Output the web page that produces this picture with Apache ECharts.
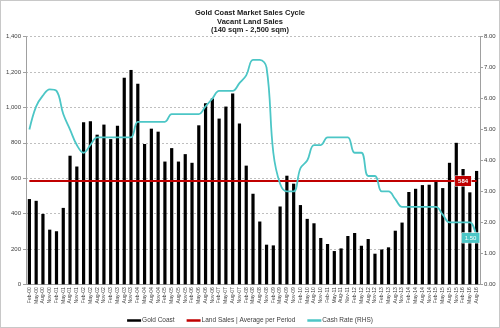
<!DOCTYPE html>
<html><head><meta charset="utf-8">
<script src="https://cdn.jsdelivr.net/npm/echarts@6/dist/echarts.min.js"></script>
<style>html,body{margin:0;padding:0;background:#fff}#c{width:500px;height:328px;position:absolute;left:0;top:0}#b{position:absolute;left:0;top:0;width:500px;height:328px;box-sizing:border-box;border:1px solid #c8c8c8;pointer-events:none}</style>
</head><body><div id="c"></div><div id="b"></div>
<script>
const categories = ["Feb-00","May-00","Aug-00","Nov-00","Feb-01","May-01","Aug-01","Nov-01","Feb-02","May-02","Aug-02","Nov-02","Feb-03","May-03","Aug-03","Nov-03","Feb-04","May-04","Aug-04","Nov-04","Feb-05","May-05","Aug-05","Nov-05","Feb-06","May-06","Aug-06","Nov-06","Feb-07","May-07","Aug-07","Nov-07","Feb-08","May-08","Aug-08","Nov-08","Feb-09","May-09","Aug-09","Nov-09","Feb-10","May-10","Aug-10","Nov-10","Feb-11","May-11","Aug-11","Nov-11","Feb-12","May-12","Aug-12","Nov-12","Feb-13","May-13","Aug-13","Nov-13","Feb-14","May-14","Aug-14","Nov-14","Feb-15","May-15","Aug-15","Nov-15","Feb-16","May-16","Aug-16"];
const goldCoastSales = [482,472,398,309,300,432,727,666,916,922,846,903,821,897,1168,1212,1134,793,880,863,694,770,694,736,687,899,1024,1051,937,1005,1079,909,671,512,355,224,220,440,614,569,448,370,345,262,228,188,203,273,290,218,256,173,197,209,303,349,522,540,561,563,580,544,687,800,652,520,641];
const cashRate = [5.0,5.75,6.1,6.3,6.25,5.5,5.0,4.5,4.25,4.5,4.75,4.75,4.75,4.75,4.75,4.75,5.25,5.25,5.25,5.25,5.25,5.5,5.5,5.5,5.5,5.5,5.75,6.0,6.25,6.25,6.25,6.5,6.75,7.25,7.25,7.0,4.25,3.25,3.0,3.0,3.75,4.0,4.5,4.5,4.75,4.75,4.75,4.75,4.25,4.25,3.5,3.5,3.0,3.0,2.75,2.5,2.5,2.5,2.5,2.5,2.5,2.25,2.0,2.0,2.0,2.0,1.5];
const averageSales = 584;
const averageLabelIndex = 64;

const chart = echarts.init(document.getElementById('c'), null, {renderer:'canvas'});
const avgData = categories.map((c, i) => i === averageLabelIndex ? {
  value: averageSales,
  label: {show:true, position:'inside', formatter: String(averageSales), color:'#fff', fontWeight:'bold', fontSize:6, backgroundColor:'#c00000', borderColor:'#fff', borderWidth:0.5, padding:[2,3]}
} : averageSales);
const cashData = cashRate.map((v, i) => i === cashRate.length - 1 ? {
  value: v,
  label: {show:true, position:'inside', offset:[-6,0], formatter: v.toFixed(2), color:'#fff', fontSize:6, backgroundColor:'#4cc6c6', borderColor:'#fff', borderWidth:0.5, padding:[2,3]}
} : v);

chart.setOption({
  animation:false,
  title:{
    text:'Gold Coast Market Sales Cycle\nVacant Land Sales\n(140 sqm - 2,500 sqm)',
    left:'center', top:4,
    textStyle:{fontFamily:'Liberation Sans', fontSize:7.5, fontWeight:'bold', color:'#1a1a1a', lineHeight:8.5}
  },
  legend:{
    left:'center', top:312, icon:'rect', itemWidth:14, itemHeight:2.5, itemGap:12,
    textStyle:{fontFamily:'Liberation Sans', fontSize:6.5, color:'#404040', padding:[0,0,0,-4]},
    data:['Gold Coast','Land Sales | Average per Period','Cash Rate (RHS)']
  },
  grid:{left:26, right:20, top:36.7, bottom:43.7, containLabel:false},
  xAxis:{
    type:'category', data:categories, boundaryGap:true,
    axisLine:{lineStyle:{color:'#a0a0a0', width:1}},
    axisTick:{show:false},
    axisLabel:{interval:0, rotate:90, fontSize:5, margin:3, color:'#404040', fontFamily:'Liberation Sans'}
  },
  yAxis:[{
    type:'value', min:0, max:1400, interval:200,
    axisLine:{show:true, lineStyle:{color:'#a0a0a0'}},
    axisTick:{show:true, length:3, lineStyle:{color:'#a0a0a0'}},
    splitLine:{lineStyle:{color:'#bfbfbf', type:[2,2], width:1}},
    axisLabel:{fontSize:6, margin:5, color:'#404040', fontFamily:'Liberation Sans',
      formatter:v => v.toLocaleString('en-US')}
  },{
    type:'value', min:0, max:8, interval:1, position:'right',
    axisLine:{show:true, lineStyle:{color:'#a0a0a0'}},
    axisTick:{show:true, length:3, lineStyle:{color:'#a0a0a0'}},
    splitLine:{show:false},
    axisLabel:{fontSize:6, margin:4, color:'#404040', fontFamily:'Liberation Sans',
      formatter:v => v.toFixed(2)}
  }],
  series:[{
    name:'Gold Coast', type:'bar', data:goldCoastSales, barWidth:3.2,
    itemStyle:{color:'#000'}, z:2
  },{
    name:'Land Sales | Average per Period', type:'line', data:avgData,
    symbol:'circle', symbolSize:0.01, showSymbol:true, showAllSymbol:true,
    lineStyle:{color:'#c00000', width:2}, itemStyle:{color:'#c00000'}, z:3
  },{
    name:'Cash Rate (RHS)', type:'line', yAxisIndex:1, data:cashData,
    symbol:'circle', symbolSize:0.01, showSymbol:true, showAllSymbol:true,
    smooth:0.4, lineStyle:{color:'#4cc6c6', width:1.8}, itemStyle:{color:'#4cc6c6'}, z:4
  }]
});
</script></body></html>
